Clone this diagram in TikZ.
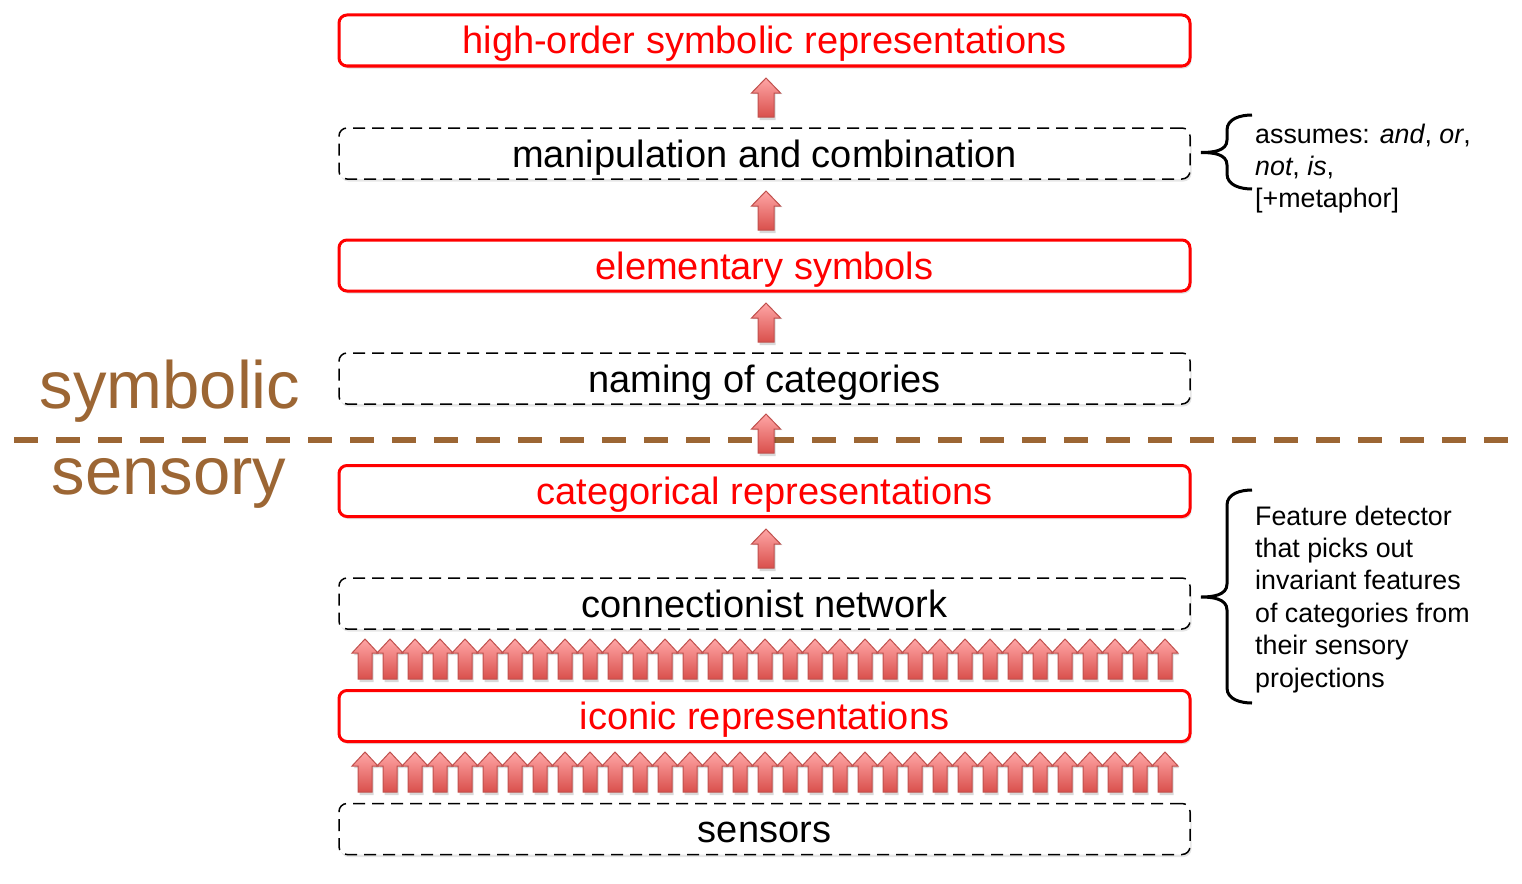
\documentclass[tikz,border=0pt]{standalone}
\usepackage{fontspec}
\setmainfont{Liberation Sans}
\usetikzlibrary{shadows}
\definecolor{brownsep}{HTML}{9C6634}
\definecolor{arrowtop}{HTML}{FFA6A6}
\definecolor{arrowbot}{HTML}{D9504C}
\definecolor{arrowedge}{HTML}{C0504D}
\tikzset{
  x=1pt,y=-1pt,
  layerbox/.style={rounded corners=8pt, minimum width=851pt, minimum height=51pt, inner sep=0pt,
     text height=32pt, text depth=5pt, font=\fontsize{38}{44}\selectfont},
  redbox/.style={layerbox, draw=red, line width=3pt, text=red, fill=white,
     drop shadow={opacity=0.25, shadow xshift=1.5pt, shadow yshift=-2.5pt}},
  dashbox/.style={layerbox, draw=black, line width=1.5pt, dash pattern=on 12pt off 7pt, text=black, fill=white,
     drop shadow={opacity=0.2, shadow xshift=1.5pt, shadow yshift=-2.5pt}},
  sidelabel/.style={text=brownsep, font=\fontsize{67}{72}\selectfont, inner sep=0pt},
  notetext/.style={align=left, anchor=north west, inner sep=0pt, font=\fontsize{26.8}{32.4}\selectfont},
  bracestyle/.style={line width=3pt, draw=black},
  sepline/.style={draw=brownsep, line width=6pt, dash pattern=on 24.3pt off 17.7pt},
  bigarrow/.pic={
    \fill[black, opacity=0.15] (-6.5,3) -- (-6.5,-23) -- (-13.5,-23) -- (1.5,-37) -- (16.5,-23) -- (9.5,-23) -- (9.5,3) -- cycle;
    \shade[top color=arrowtop, bottom color=arrowbot, draw=arrowedge, line width=1pt]
      (-8,0) -- (-8,-24) -- (-14.5,-24) -- (0,-39) -- (14.5,-24) -- (8,-24) -- (8,0) -- cycle;
  },
  smallarrow/.pic={
    \fill[black, opacity=0.15] (-5.5,3) -- (-5.5,-24) -- (-11,-24) -- (1.5,-38) -- (14,-24) -- (8.5,-24) -- (8.5,3) -- cycle;
    \shade[top color=arrowtop, bottom color=arrowbot, draw=arrowedge, line width=1pt]
      (-7,0) -- (-7,-26) -- (-13,-26) -- (0,-40) -- (13,-26) -- (7,-26) -- (7,0) -- cycle;
  }
}
\begin{document}
\begin{tikzpicture}
\useasboundingbox (0,0) rectangle (1522,883);
% separator line
\coordinate (sepL) at (14,440);
\coordinate (sepR) at (1510,440);
\draw[sepline] (sepL) -- (sepR);
% side labels
\node[sidelabel, anchor=base] (symb) at (170,408) {symbolic};
\node[sidelabel, anchor=base] (sens) at (169,494) {sensory};
% boxes
\node[redbox]  (hosr) at (764.5,40.5)  {high-order symbolic representations};
\node[dashbox] (manc) at (764.5,153.5) {manipulation and combination};
\node[redbox]  (elem) at (764.5,265.5) {elementary symbols};
\node[dashbox] (name) at (764.5,378.5) {naming of categories};
\node[redbox]  (catr) at (764.5,491)   {categorical representations};
\node[dashbox] (conn) at (764.5,603.5) {connectionist network};
\node[redbox]  (icon) at (764.5,716)   {iconic representations};
\node[dashbox] (sens2) at (764.5,829)  {sensors};
% single arrows
\pic at (766,117) {bigarrow};
\pic at (766,230) {bigarrow};
\pic at (766,342) {bigarrow};
\pic at (766,453) {bigarrow};
\pic at (766,568) {bigarrow};
% arrow rows
\foreach \i in {0,...,32} {
  \pic at (365+25*\i,679) {smallarrow};
  \pic at (365+25*\i,792) {smallarrow};
}
% braces
\draw[bracestyle] (1252,115) to[out=180,in=90] (1227,130) -- (1227,140) to[out=270,in=0] (1201,152.5)
   to[out=0,in=90] (1227,165) -- (1227,174) to[out=270,in=180] (1252,189);
\draw[bracestyle] (1252,490) to[out=180,in=90] (1227,505) -- (1227,584) to[out=270,in=0] (1201,597)
   to[out=0,in=90] (1227,610) -- (1227,688) to[out=270,in=180] (1252,703);
% notes
\node[notetext] (note1) at (1255,123.5) {assumes: \textit{and}, \textit{or},\\\textit{not}, \textit{is},\\{[+metaphor]}};
\node[notetext] (note2) at (1255,505.5) {Feature detector\\that picks out\\invariant features\\of categories from\\their sensory\\projections};
\end{tikzpicture}
\end{document}
